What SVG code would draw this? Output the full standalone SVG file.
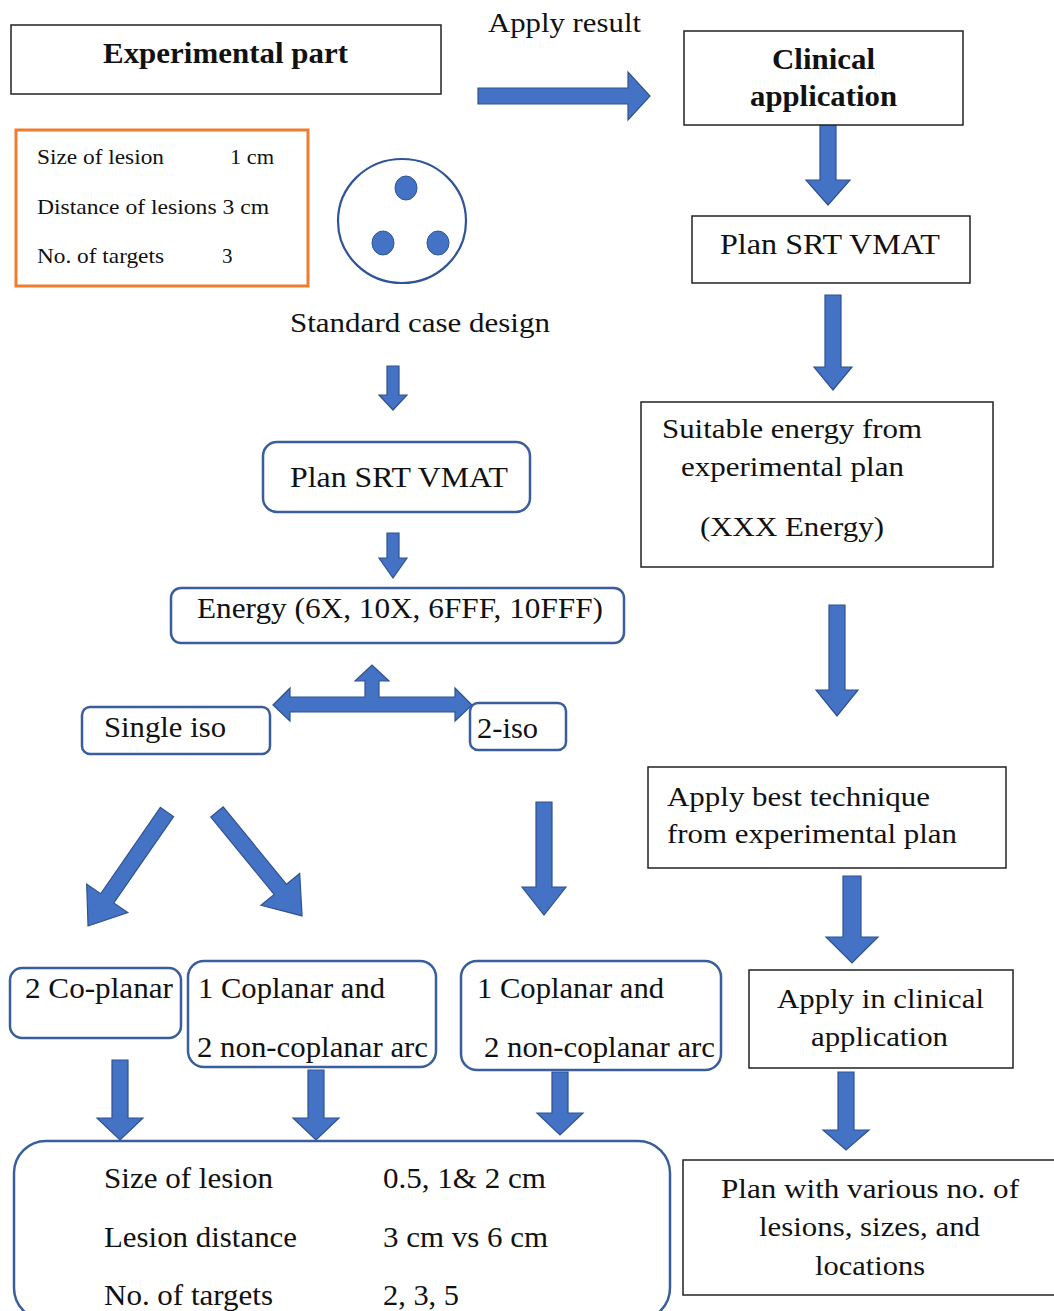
<svg xmlns="http://www.w3.org/2000/svg" width="1054" height="1311" viewBox="0 0 1054 1311">
<style>
text{fill:#111}
.b{font-weight:bold}
.box{fill:#fff;stroke:#222;stroke-width:1.5}
.rbox{fill:#fff;stroke:#3A5E9C;stroke-width:2.5}
.arr{fill:#4472C4;stroke:#2F528F;stroke-width:1.2}
.f30{font-size:30px}
.f28{font-size:28px}
.f21{font-size:21px}
</style>
<defs>
<polygon id="dl" points="-8,0 8,0 8,105 25,105 0,138.7 -25,105 -8,105"/>
<polygon id="dr" points="-8,0 8,0 8,100 25,100 0,134.3 -25,100 -8,100"/>
</defs>
<rect width="1054" height="1311" fill="#fff"/>

<g id="connectors">
<polygon class="arr" points="478,88 628,88 628,72 650,96 628,120 628,104 478,104"/>
<polygon class="arr" points="820,125 836,125 836,180 850,180 828,205 806,180 820,180"/>
<polygon class="arr" points="825,295 841,295 841,367 852,367 833,390 814,367 825,367"/>
<polygon class="arr" points="829,605 845,605 845,690 858,690 837,716 816,690 829,690"/>
<polygon class="arr" points="843,876 861,876 861,937 878,937 852,963 826,937 843,937"/>
<polygon class="arr" points="838,1072 854,1072 854,1130 869,1130 846,1150 823,1130 838,1130"/>
<polygon class="arr" points="387,366 399,366 399,395 407,395 393,410 379,395 387,395"/>
<polygon class="arr" points="387,533 399,533 399,558 407,558 393,578 379,558 387,558"/>
<polygon class="arr" points="273,705 290,688 290,697 365,697 365,681 355,681 372,665 389,681 379,681 379,697 455,697 455,688 472,705 455,721 455,712 290,712 290,721"/>
<use href="#dl" class="arr" transform="translate(167,812) rotate(34.7)"/>
<use href="#dr" class="arr" transform="translate(217,812) rotate(-39.3)"/>
<polygon class="arr" points="536,802 552,802 552,887 566,887 544,915 522,887 536,887"/>
<polygon class="arr" points="112,1060 128,1060 128,1118 143,1118 120,1140 97,1118 112,1118"/>
<polygon class="arr" points="308,1070 324,1070 324,1118 339,1118 316,1140 293,1118 308,1118"/>
<polygon class="arr" points="552,1072 568,1072 568,1113 583,1113 560,1135 537,1113 552,1113"/>
</g>

<g font-family="Liberation Serif">
<g id="experimental-part">
<rect class="box" x="11" y="25" width="430" height="69"/>
<text class="f30 b" x="103" y="63" textLength="245" lengthAdjust="spacingAndGlyphs">Experimental part</text>
</g>

<g id="apply-result">
<text class="f28" x="488" y="32" textLength="153" lengthAdjust="spacingAndGlyphs">Apply result</text>
</g>

<g id="clinical-application">
<rect class="box" x="684" y="31" width="279" height="94"/>
<text class="f30 b" x="772" y="69" textLength="103" lengthAdjust="spacingAndGlyphs">Clinical</text>
<text class="f30 b" x="750" y="106" textLength="147" lengthAdjust="spacingAndGlyphs">application</text>
</g>

<g id="standard-params">
<rect x="16" y="130" width="292" height="156" fill="#fff" stroke="#ED7D31" stroke-width="3"/>
<text class="f21" x="37" y="164" textLength="127" lengthAdjust="spacingAndGlyphs">Size of lesion</text>
<text class="f21" x="230" y="164" textLength="44" lengthAdjust="spacingAndGlyphs">1 cm</text>
<text class="f21" x="37" y="214" textLength="232" lengthAdjust="spacingAndGlyphs">Distance of lesions 3 cm</text>
<text class="f21" x="37" y="263" textLength="127" lengthAdjust="spacingAndGlyphs">No. of targets</text>
<text class="f21" x="222" y="263">3</text>
</g>

<g id="phantom">
<ellipse cx="402" cy="221" rx="64" ry="62" fill="#fff" stroke="#2F5597" stroke-width="2.2"/>
<ellipse cx="406" cy="188" rx="11" ry="12" fill="#4472C4" stroke="#2F5597" stroke-width="1"/>
<ellipse cx="383" cy="243" rx="11" ry="12" fill="#4472C4" stroke="#2F5597" stroke-width="1"/>
<ellipse cx="438" cy="243" rx="11" ry="12" fill="#4472C4" stroke="#2F5597" stroke-width="1"/>
<text class="f28" x="290" y="332" textLength="260" lengthAdjust="spacingAndGlyphs">Standard case design</text>
</g>

<g id="plan-left">
<rect class="rbox" x="263" y="442" width="267" height="70" rx="14"/>
<text class="f30" x="290" y="487" textLength="218" lengthAdjust="spacingAndGlyphs">Plan SRT VMAT</text>
</g>

<g id="energy">
<rect class="rbox" x="171" y="588" width="453" height="55" rx="10"/>
<text class="f30" x="197" y="618" textLength="406" lengthAdjust="spacingAndGlyphs">Energy (6X, 10X, 6FFF, 10FFF)</text>
</g>

<g id="single-iso">
<rect class="rbox" x="82" y="707" width="188" height="47" rx="8"/>
<text class="f30" x="104" y="737" textLength="122" lengthAdjust="spacingAndGlyphs">Single iso</text>
</g>

<g id="two-iso">
<rect class="rbox" x="470" y="703" width="96" height="47" rx="8"/>
<text class="f30" x="477" y="738" textLength="61" lengthAdjust="spacingAndGlyphs">2-iso</text>
</g>

<g id="co-planar">
<rect class="rbox" x="10" y="968" width="171" height="70" rx="12"/>
<text class="f30" x="25" y="998" textLength="148" lengthAdjust="spacingAndGlyphs">2 Co-planar</text>
</g>

<g id="coplanar-noncoplanar-1">
<rect class="rbox" x="188" y="961" width="248" height="106" rx="16"/>
<text class="f30" x="198" y="998" textLength="187" lengthAdjust="spacingAndGlyphs">1 Coplanar and</text>
<text class="f30" x="197" y="1057" textLength="231" lengthAdjust="spacingAndGlyphs">2 non-coplanar arc</text>
</g>

<g id="coplanar-noncoplanar-2">
<rect class="rbox" x="461" y="961" width="260" height="109" rx="16"/>
<text class="f30" x="477" y="998" textLength="187" lengthAdjust="spacingAndGlyphs">1 Coplanar and</text>
<text class="f30" x="484" y="1057" textLength="231" lengthAdjust="spacingAndGlyphs">2 non-coplanar arc</text>
</g>

<g id="variables">
<rect class="rbox" x="14" y="1141" width="656" height="179" rx="32"/>
<text class="f30" x="104" y="1188" textLength="169" lengthAdjust="spacingAndGlyphs">Size of lesion</text>
<text class="f30" x="383" y="1188" textLength="163" lengthAdjust="spacingAndGlyphs">0.5, 1&amp; 2 cm</text>
<text class="f30" x="104" y="1247" textLength="193" lengthAdjust="spacingAndGlyphs">Lesion distance</text>
<text class="f30" x="383" y="1247" textLength="165" lengthAdjust="spacingAndGlyphs">3 cm vs 6 cm</text>
<text class="f30" x="104" y="1305" textLength="169" lengthAdjust="spacingAndGlyphs">No. of targets</text>
<text class="f30" x="383" y="1305" textLength="76" lengthAdjust="spacingAndGlyphs">2, 3, 5</text>
</g>

<g id="plan-right">
<rect class="box" x="692" y="216" width="278" height="67"/>
<text class="f30" x="720" y="254" textLength="220" lengthAdjust="spacingAndGlyphs">Plan SRT VMAT</text>
</g>

<g id="suitable-energy">
<rect class="box" x="641" y="402" width="352" height="165"/>
<text class="f28" x="662" y="438" textLength="260" lengthAdjust="spacingAndGlyphs">Suitable energy from</text>
<text class="f28" x="681" y="476" textLength="223" lengthAdjust="spacingAndGlyphs">experimental plan</text>
<text class="f28" x="700" y="536" textLength="184" lengthAdjust="spacingAndGlyphs">(XXX Energy)</text>
</g>

<g id="best-technique">
<rect class="box" x="648" y="767" width="358" height="101"/>
<text class="f28" x="667" y="806" textLength="263" lengthAdjust="spacingAndGlyphs">Apply best technique</text>
<text class="f28" x="667" y="843" textLength="290" lengthAdjust="spacingAndGlyphs">from experimental plan</text>
</g>

<g id="apply-clinical">
<rect class="box" x="749" y="970" width="264" height="98"/>
<text class="f28" x="777" y="1008" textLength="207" lengthAdjust="spacingAndGlyphs">Apply in clinical</text>
<text class="f28" x="811" y="1046" textLength="137" lengthAdjust="spacingAndGlyphs">application</text>
</g>

<g id="plan-various">
<rect class="box" x="683" y="1160" width="380" height="135"/>
<text class="f28" x="721" y="1198" textLength="298" lengthAdjust="spacingAndGlyphs">Plan with various no. of</text>
<text class="f28" x="759" y="1236" textLength="221" lengthAdjust="spacingAndGlyphs">lesions, sizes, and</text>
<text class="f28" x="815" y="1275" textLength="110" lengthAdjust="spacingAndGlyphs">locations</text>
</g>
</g>
</svg>
